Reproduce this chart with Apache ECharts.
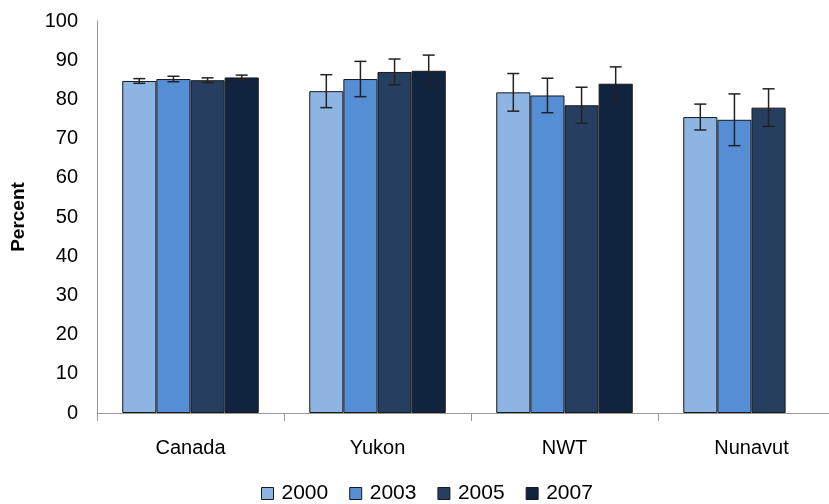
<!DOCTYPE html>
<html>
<head>
<meta charset="utf-8">
<script src="https://cdn.jsdelivr.net/npm/echarts@6/dist/echarts.min.js"></script>
<style>
html,body{margin:0;padding:0;background:#fff;overflow:hidden;width:829px;height:504px;}
#chart{width:846px;height:504px;}
</style>
</head>
<body>
<div id="chart"></div>
<script>
const categories = ['Canada', 'Yukon', 'NWT', 'Nunavut'];
const years = ['2000', '2003', '2005', '2007'];
const v2000 = [84.7, 82.1, 81.8, 75.5];
const v2003 = [85.2, 85.2, 81.0, 74.8];
const v2005 = [84.9, 87.0, 78.5, 77.9];
const v2007 = [85.6, 87.3, 84.0, null];
const e2000 = [0.6, 4.2, 4.8, 3.3];
const e2003 = [0.7, 4.5, 4.4, 6.6];
const e2005 = [0.6, 3.3, 4.6, 4.8];
const e2007 = [0.6, 4.0, 4.3, null];
const yTicks = [0, 10, 20, 30, 40, 50, 60, 70, 80, 90, 100];

const values = [v2000, v2003, v2005, v2007];
const errors = [e2000, e2003, e2005, e2007];
const colors = ['#8EB4E3', '#558ED5', '#263F61', '#10243F'];
const catGap = 0.27;
const font = '"Liberation Sans", Arial, sans-serif';

const chart = echarts.init(document.getElementById('chart'));

const series = [];
years.forEach((y, i) => {
  series.push({
    name: y,
    type: 'bar',
    data: values[i],
    barGap: '0%',
    barCategoryGap: (catGap * 100) + '%',
    itemStyle: { color: colors[i], borderColor: '#1a1a1a', borderWidth: 1 },
    animation: false
  });
});
years.forEach((y, i) => {
  const data = categories.map((c, k) => values[i][k] == null ? null : [k, values[i][k] - errors[i][k], values[i][k] + errors[i][k]]).filter(d => d);
  series.push({
    type: 'custom',
    name: y + ' err',
    data: data,
    z: 10,
    silent: true,
    animation: false,
    encode: { x: 0, y: [1, 2] },
    renderItem: function (params, api) {
      const k = api.value(0);
      const lo = api.coord([k, api.value(1)]);
      const hi = api.coord([k, api.value(2)]);
      const bandW = api.size([1, 0])[0];
      const groupW = bandW * (1 - catGap);
      const bw = groupW / 4;
      const x = lo[0] - groupW / 2 + bw * (i + 0.5);
      const cap = 6;
      const style = { stroke: '#222', lineWidth: 1.5 };
      return {
        type: 'group',
        children: [
          { type: 'line', shape: { x1: x, y1: hi[1], x2: x, y2: lo[1] }, style: style },
          { type: 'line', shape: { x1: x - cap, y1: hi[1], x2: x + cap, y2: hi[1] }, style: style },
          { type: 'line', shape: { x1: x - cap, y1: lo[1], x2: x + cap, y2: lo[1] }, style: style }
        ]
      };
    }
  });
});

chart.setOption({
  backgroundColor: '#fff',
  animation: false,
  grid: { left: 97, top: 21, bottom: 91, right: 1 },
  legend: {
    data: years.map((y, i) => ({ name: y, itemStyle: { color: colors[i], borderColor: '#1a1a1a', borderWidth: 1 } })),
    top: 478,
    left: 256,
    icon: 'rect',
    itemWidth: 12,
    itemHeight: 12,
    itemGap: 21,
    textStyle: { fontFamily: font, fontSize: 21, color: '#000', padding: [0, 0, 0, 3] }
  },
  xAxis: {
    type: 'category',
    data: categories,
    axisLine: { lineStyle: { color: '#999', width: 1 } },
    axisTick: { show: true, length: 8, lineStyle: { color: '#999' } },
    axisLabel: { fontFamily: font, fontSize: 20, color: '#000', margin: 25 }
  },
  yAxis: {
    type: 'value',
    min: yTicks[0],
    max: yTicks[yTicks.length - 1],
    interval: 10,
    name: 'Percent',
    nameLocation: 'middle',
    nameGap: 69,
    nameRotate: 90,
    nameTextStyle: { fontFamily: font, fontSize: 19, fontWeight: 'bold', color: '#000' },
    axisLine: { show: true, lineStyle: { color: '#999', width: 1 } },
    axisTick: { show: false },
    splitLine: { show: false },
    axisLabel: { fontFamily: font, fontSize: 20, color: '#000', margin: 19 }
  },
  series: series
});
</script>
</body>
</html>
